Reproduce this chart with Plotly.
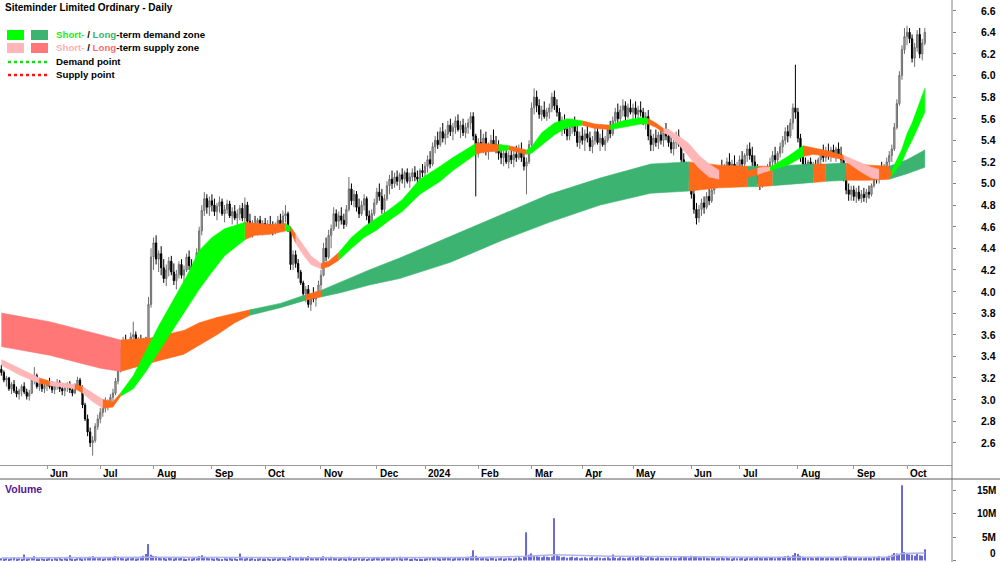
import pandas as pd
import plotly.graph_objects as go

TITLE = "Siteminder Limited Ordinary - Daily"
first_day, last_day = "2023-05-08", "2024-10-10"
asx_holidays = ["2023-06-12", "2023-12-25", "2023-12-26", "2024-01-01", "2024-01-26",
                "2024-03-29", "2024-04-01", "2024-04-25", "2024-06-10"]

# ---------------- daily prices (one line per month) ----------------
open_ = [
 3.28,3.25,3.18,3.20,3.10,3.14,3.08,3.05,3.08,3.12,3.07,3.03,3.06,3.18,3.22,3.12,3.15,3.10,
 3.13,3.15,3.12,3.09,3.13,3.16,3.10,3.08,3.11,3.14,3.09,3.06,3.13,3.18,3.11,2.95,2.82,2.70,2.60,2.62,2.75,
 2.82,2.88,2.92,2.96,2.98,3.02,3.06,3.17,3.27,3.45,3.52,3.42,3.50,3.58,3.60,3.48,3.55,3.45,3.52,3.40,3.88,
 4.32,4.45,4.30,4.35,4.22,4.12,4.20,4.28,4.18,4.10,4.16,4.25,4.15,4.20,4.32,4.24,4.14,4.26,4.36,4.56,4.75,4.86,4.78,
 4.84,4.80,4.74,4.79,4.83,4.72,4.76,4.81,4.70,4.74,4.68,4.72,4.77,4.68,4.80,4.65,4.58,4.62,4.60,4.66,4.58,
 4.63,4.57,4.62,4.60,4.55,4.61,4.66,4.62,4.70,4.72,4.58,4.25,4.34,4.26,4.18,4.08,3.98,4.02,3.88,3.95,3.93,3.98,
 4.06,4.15,4.40,4.32,4.52,4.58,4.72,4.65,4.70,4.66,4.62,4.76,4.95,4.84,4.90,4.78,4.72,4.80,4.86,4.70,4.60,4.72,
 4.82,4.92,4.88,4.76,4.86,4.98,5.04,5.00,5.06,5.02,5.08,5.04,5.10,5.02,5.06,5.10,5.06,5.04,5.12,
 5.10,5.16,5.22,5.18,5.34,5.40,5.36,5.48,5.42,5.46,5.54,5.48,5.52,5.58,5.50,5.54,5.47,5.52,5.56,5.62,5.44,
 5.30,5.38,5.34,5.42,5.30,5.35,5.40,5.36,5.32,5.28,5.24,5.28,5.20,5.26,5.22,5.27,5.24,5.32,5.24,5.16,5.20,
 5.36,5.70,5.80,5.72,5.64,5.68,5.62,5.66,5.70,5.80,5.72,5.66,5.54,5.58,5.50,5.44,5.52,5.55,5.48,5.38,
 5.44,5.40,5.46,5.42,5.34,5.40,5.48,5.38,5.42,5.36,5.40,5.50,5.46,5.58,5.66,5.60,5.68,5.72,5.62,5.70,
 5.66,5.70,5.64,5.68,5.66,5.58,5.62,5.44,5.36,5.42,5.38,5.45,5.40,5.47,5.44,5.38,5.32,5.38,5.44,5.36,5.22,5.14,5.08,
 5.12,4.90,4.76,4.68,4.76,4.82,4.78,4.88,4.84,4.94,5.00,5.08,5.12,5.10,5.14,5.20,5.14,5.18,5.12,
 5.16,5.22,5.18,5.26,5.32,5.26,5.20,5.14,5.04,5.00,5.06,5.04,5.15,5.20,5.26,5.22,5.28,5.34,5.40,5.48,5.44,5.56,5.70,
 5.66,5.42,5.24,5.18,5.14,5.20,5.12,5.16,5.14,5.22,5.28,5.24,5.30,5.26,5.31,5.28,5.32,5.27,5.22,5.06,4.94,4.90,
 4.94,4.88,4.92,4.86,4.90,4.87,4.92,4.90,4.98,5.08,5.04,5.12,5.10,5.16,5.20,5.26,5.32,5.52,5.74,6.00,6.24,
 6.36,6.40,6.34,6.16,6.26,6.38,6.20,6.30]
high = [
 3.32,3.27,3.22,3.21,3.16,3.18,3.12,3.10,3.14,3.16,3.10,3.09,3.20,3.30,3.24,3.18,3.19,3.16,
 3.18,3.20,3.17,3.15,3.19,3.18,3.14,3.13,3.16,3.17,3.12,3.15,3.21,3.20,3.13,2.97,2.86,2.74,2.66,2.78,2.86,
 2.92,2.95,3.02,3.00,3.05,3.10,3.20,3.30,3.48,3.58,3.60,3.55,3.62,3.72,3.63,3.58,3.60,3.57,3.58,3.95,4.40,
 4.50,4.52,4.38,4.42,4.30,4.25,4.32,4.33,4.26,4.20,4.28,4.30,4.24,4.35,4.38,4.30,4.28,4.40,4.60,4.80,4.92,4.90,4.88,
 4.90,4.86,4.82,4.88,4.86,4.80,4.85,4.84,4.78,4.80,4.76,4.80,4.82,4.87,4.83,4.72,4.66,4.70,4.68,4.70,4.66,
 4.68,4.66,4.70,4.65,4.64,4.70,4.72,4.75,4.80,4.74,4.60,4.38,4.38,4.30,4.20,4.10,4.05,4.06,3.98,4.04,4.00,4.10,
 4.20,4.45,4.50,4.57,4.62,4.78,4.76,4.74,4.78,4.72,4.80,5.06,5.00,4.94,4.93,4.86,4.84,4.90,4.88,4.75,4.76,4.86,
 4.96,5.00,4.95,4.90,5.02,5.08,5.12,5.10,5.12,5.10,5.14,5.12,5.14,5.10,5.14,5.16,5.12,5.14,5.18,
 5.20,5.26,5.30,5.38,5.44,5.48,5.52,5.56,5.50,5.58,5.60,5.56,5.62,5.64,5.58,5.60,5.56,5.60,5.66,5.66,5.46,
 5.42,5.50,5.46,5.48,5.38,5.45,5.50,5.44,5.40,5.36,5.32,5.34,5.30,5.32,5.30,5.35,5.36,5.38,5.30,5.24,5.40,
 5.75,5.88,5.86,5.78,5.72,5.76,5.70,5.74,5.84,5.86,5.78,5.70,5.62,5.64,5.58,5.56,5.60,5.62,5.54,5.48,
 5.52,5.50,5.54,5.48,5.44,5.52,5.54,5.46,5.50,5.44,5.54,5.58,5.62,5.70,5.74,5.72,5.78,5.76,5.74,5.78,
 5.74,5.76,5.72,5.76,5.70,5.66,5.68,5.50,5.46,5.50,5.48,5.52,5.50,5.56,5.50,5.46,5.42,5.48,5.50,5.40,5.28,5.20,5.18,
 5.14,4.96,4.82,4.80,4.86,4.88,4.92,4.96,4.98,5.04,5.12,5.16,5.22,5.18,5.24,5.28,5.22,5.26,5.20,
 5.26,5.30,5.28,5.36,5.38,5.34,5.26,5.18,5.10,5.08,5.12,5.18,5.24,5.30,5.34,5.30,5.38,5.44,5.52,5.54,5.60,5.74,6.10,
 5.70,5.46,5.30,5.24,5.22,5.24,5.20,5.22,5.24,5.32,5.36,5.34,5.37,5.34,5.36,5.34,5.38,5.34,5.24,5.10,5.00,4.98,
 4.98,4.96,4.98,4.94,4.96,4.95,4.98,5.00,5.12,5.16,5.14,5.20,5.18,5.24,5.30,5.36,5.56,5.78,6.04,6.28,6.44,
 6.46,6.44,6.38,6.30,6.42,6.44,6.34,6.44]
low = [
 3.22,3.16,3.12,3.08,3.05,3.06,3.02,3.00,3.03,3.05,3.00,2.99,3.05,3.14,3.10,3.08,3.07,3.06,
 3.08,3.10,3.06,3.05,3.09,3.07,3.04,3.03,3.07,3.06,3.03,3.05,3.10,3.09,2.92,2.80,2.66,2.56,2.48,2.60,2.72,
 2.78,2.84,2.88,2.90,2.93,2.98,3.04,3.14,3.25,3.40,3.38,3.36,3.46,3.54,3.44,3.40,3.42,3.36,3.34,3.38,3.85,
 4.20,4.25,4.18,4.15,4.08,4.05,4.14,4.15,4.06,4.02,4.12,4.12,4.08,4.18,4.20,4.10,4.12,4.22,4.34,4.52,4.70,4.72,4.70,
 4.74,4.70,4.66,4.73,4.70,4.64,4.72,4.68,4.62,4.66,4.60,4.66,4.65,4.62,4.62,4.52,4.50,4.55,4.52,4.56,4.52,
 4.55,4.54,4.56,4.52,4.53,4.58,4.58,4.60,4.64,4.55,4.20,4.20,4.22,4.12,4.06,3.96,3.90,3.85,3.82,3.90,3.86,3.96,
 4.00,4.14,4.28,4.30,4.40,4.56,4.60,4.58,4.62,4.58,4.60,4.74,4.80,4.78,4.74,4.68,4.70,4.75,4.66,4.55,4.58,4.70,
 4.80,4.84,4.72,4.70,4.84,4.90,4.95,4.96,4.98,4.94,5.00,4.96,5.00,4.96,5.02,5.02,4.98,5.00,5.06,
 5.06,5.10,5.14,5.16,5.28,5.32,5.34,5.38,5.36,5.42,5.44,5.40,5.46,5.48,5.42,5.44,5.42,5.46,5.50,5.40,4.88,
 5.24,5.30,5.28,5.26,5.22,5.30,5.32,5.28,5.22,5.18,5.16,5.18,5.14,5.18,5.15,5.20,5.22,5.20,5.12,4.90,5.18,
 5.34,5.64,5.66,5.60,5.58,5.60,5.58,5.60,5.66,5.68,5.62,5.50,5.44,5.46,5.40,5.40,5.46,5.44,5.34,5.32,
 5.36,5.30,5.38,5.30,5.28,5.36,5.36,5.30,5.34,5.30,5.38,5.42,5.44,5.52,5.56,5.56,5.62,5.58,5.60,5.64,
 5.58,5.60,5.56,5.62,5.54,5.50,5.40,5.30,5.30,5.34,5.32,5.36,5.34,5.40,5.34,5.28,5.26,5.32,5.34,5.18,5.10,5.04,5.02,
 4.86,4.72,4.62,4.64,4.70,4.72,4.76,4.80,4.82,4.90,4.96,5.02,5.06,5.02,5.08,5.10,5.04,5.10,5.06,
 5.10,5.14,5.12,5.20,5.22,5.16,5.10,5.00,4.94,4.96,5.00,5.02,5.10,5.14,5.18,5.16,5.24,5.28,5.36,5.38,5.42,5.50,5.60,
 5.38,5.20,5.12,5.10,5.08,5.10,5.08,5.10,5.12,5.18,5.20,5.20,5.22,5.20,5.24,5.20,5.24,5.18,5.02,4.90,4.84,4.84,
 4.84,4.82,4.84,4.82,4.83,4.82,4.86,4.88,4.96,5.00,5.00,5.04,5.06,5.10,5.14,5.20,5.30,5.50,5.72,5.96,6.20,
 6.28,6.30,6.12,6.08,6.22,6.16,6.14,6.28]
close = [
 3.25,3.18,3.20,3.10,3.14,3.08,3.05,3.08,3.12,3.07,3.03,3.06,3.18,3.22,3.12,3.15,3.10,3.13,
 3.15,3.12,3.09,3.13,3.16,3.10,3.08,3.11,3.14,3.09,3.06,3.13,3.18,3.11,2.95,2.82,2.70,2.60,2.62,2.75,2.82,
 2.88,2.92,2.96,2.98,3.02,3.06,3.17,3.27,3.45,3.52,3.42,3.50,3.58,3.60,3.48,3.55,3.45,3.52,3.38,3.88,4.32,
 4.45,4.30,4.35,4.22,4.12,4.20,4.28,4.18,4.10,4.16,4.25,4.15,4.20,4.32,4.24,4.14,4.26,4.36,4.56,4.75,4.86,4.78,4.84,
 4.80,4.74,4.79,4.83,4.72,4.76,4.81,4.70,4.74,4.68,4.72,4.77,4.68,4.80,4.65,4.58,4.62,4.60,4.66,4.58,4.63,
 4.57,4.62,4.60,4.55,4.61,4.66,4.62,4.70,4.72,4.58,4.25,4.34,4.26,4.18,4.08,3.98,4.02,3.88,3.95,3.93,3.98,4.06,
 4.15,4.40,4.32,4.52,4.58,4.72,4.65,4.70,4.66,4.62,4.76,4.95,4.84,4.90,4.78,4.72,4.80,4.86,4.70,4.60,4.72,4.82,
 4.92,4.88,4.76,4.86,4.98,5.04,5.00,5.06,5.02,5.08,5.04,5.10,5.02,5.06,5.10,5.06,5.04,5.12,5.10,
 5.16,5.22,5.18,5.34,5.40,5.36,5.48,5.42,5.46,5.54,5.48,5.52,5.58,5.50,5.54,5.47,5.52,5.56,5.62,5.44,5.30,
 5.38,5.34,5.42,5.30,5.35,5.40,5.36,5.32,5.28,5.24,5.28,5.20,5.26,5.22,5.27,5.24,5.32,5.24,5.16,5.20,5.36,
 5.70,5.80,5.72,5.64,5.68,5.62,5.66,5.70,5.80,5.72,5.66,5.54,5.58,5.50,5.44,5.52,5.55,5.48,5.38,5.44,
 5.40,5.46,5.42,5.34,5.40,5.48,5.38,5.42,5.36,5.40,5.50,5.46,5.58,5.66,5.60,5.68,5.72,5.62,5.70,5.66,
 5.70,5.64,5.68,5.66,5.58,5.62,5.44,5.36,5.42,5.38,5.45,5.40,5.47,5.44,5.38,5.32,5.38,5.44,5.36,5.22,5.14,5.08,5.12,
 4.90,4.76,4.68,4.76,4.82,4.78,4.88,4.84,4.94,5.00,5.08,5.12,5.10,5.14,5.20,5.14,5.18,5.12,5.16,
 5.22,5.18,5.26,5.32,5.26,5.20,5.14,5.04,5.00,5.06,5.04,5.15,5.20,5.26,5.22,5.28,5.34,5.40,5.48,5.44,5.56,5.70,5.66,
 5.42,5.24,5.18,5.14,5.20,5.12,5.16,5.14,5.22,5.28,5.24,5.30,5.26,5.31,5.28,5.32,5.27,5.22,5.06,4.94,4.90,4.94,
 4.88,4.92,4.86,4.90,4.87,4.92,4.90,4.98,5.08,5.04,5.12,5.10,5.16,5.20,5.26,5.32,5.52,5.74,6.00,6.24,6.36,
 6.40,6.34,6.16,6.26,6.38,6.20,6.30,6.40]

# daily volume, millions of shares
volume_m = [
 0.5,0.4,0.6,0.3,0.5,0.7,0.4,0.5,0.3,1.3,0.4,0.5,0.6,0.9,0.4,0.4,0.5,0.3,
 0.4,0.6,0.3,0.5,0.4,0.7,0.3,0.5,0.4,1.1,0.4,0.3,0.5,0.6,0.4,0.5,0.7,0.8,0.9,0.6,0.5,
 0.6,0.4,0.5,0.5,0.7,0.6,0.9,0.8,0.6,0.5,0.4,0.7,0.5,0.6,0.4,0.5,0.8,1.0,1.4,3.5,1.2,
 1.0,0.9,0.6,0.5,0.7,0.4,0.6,0.5,0.4,0.6,0.5,0.7,0.4,0.3,0.5,0.4,0.6,0.5,0.9,1.1,0.8,0.6,0.5,
 0.5,0.4,0.6,0.4,0.3,0.5,0.4,0.6,0.4,0.5,0.3,1.5,0.5,0.4,0.6,0.4,0.5,0.3,0.4,0.5,0.4,
 0.4,0.5,0.3,0.4,0.5,0.4,0.6,0.5,0.4,0.5,1.0,0.7,0.6,0.5,0.8,0.6,0.7,0.9,0.6,0.5,0.6,0.5,
 0.7,0.9,0.6,0.5,0.8,0.6,0.5,0.4,0.6,0.5,0.4,0.8,0.5,0.4,0.5,0.6,0.4,0.5,0.3,0.5,0.4,0.6,
 0.6,0.5,0.4,0.6,0.7,0.5,0.4,0.6,0.5,0.8,0.4,0.5,0.6,0.3,0.4,0.5,0.3,0.4,0.3,
 0.4,0.5,0.6,0.7,0.5,0.6,0.4,0.5,0.7,0.6,0.5,0.4,0.6,0.5,0.7,0.5,0.6,0.8,0.9,2.2,1.0,
 0.7,0.5,0.6,0.5,0.4,0.6,0.5,0.4,0.5,0.6,0.4,0.5,0.6,0.5,0.4,0.6,0.7,0.5,0.8,6.0,1.2,
 1.5,1.0,0.9,0.8,0.7,0.9,0.8,0.7,0.8,9.0,1.1,0.9,0.7,0.8,0.6,0.7,0.8,0.6,0.7,0.5,
 0.6,0.7,0.5,0.6,0.8,0.5,0.7,0.6,0.5,0.6,0.7,0.5,1.3,0.6,0.5,0.7,0.6,0.5,0.6,0.7,
 0.7,0.6,0.8,1.0,0.6,0.5,0.9,0.7,0.6,0.5,0.7,0.6,0.5,0.6,0.5,0.7,0.6,0.5,0.6,0.8,0.9,0.7,0.6,
 1.0,0.8,0.9,0.7,0.6,0.8,0.6,0.5,0.7,0.6,0.5,0.6,0.7,0.5,0.6,0.5,0.4,0.6,0.5,
 0.5,0.6,0.4,0.7,0.5,0.6,0.5,0.8,0.7,0.5,0.6,0.5,0.7,0.6,0.5,0.6,0.8,0.7,0.9,1.0,0.8,1.1,1.6,
 1.4,1.0,0.8,0.7,0.6,0.7,0.5,0.6,0.8,0.7,0.6,0.5,0.7,0.6,0.5,0.6,0.7,0.5,0.9,1.0,0.8,0.7,
 0.6,0.7,0.5,0.6,0.5,0.7,0.6,0.5,0.8,0.7,0.9,0.6,0.7,0.8,1.0,1.2,1.6,1.5,1.4,16.0,1.8,
 1.5,1.3,1.2,1.0,1.4,1.1,1.0,2.4]
vol_avg_day = [0, 60, 120, 186, 207, 218, 240, 300, 350, 355, 364]
vol_avg_m = [0.55, 0.7, 0.6, 0.65, 0.9, 1.2, 0.9, 0.7, 0.75, 1.5, 1.6]

# ---------------- zones (band edges read at trading-day knots) ----------------
short_day = [0, 7, 15, 19, 29, 32, 36, 40, 44, 47, 52, 57, 62, 68, 73, 78, 83, 88, 96, 100, 106, 112, 114, 116,
             119, 122, 126, 129, 133, 138, 143, 148, 153, 158, 165, 173, 178, 187, 190, 196, 200, 207, 209, 213,
             218, 223, 229, 234, 240, 245, 252, 255, 258, 261, 263, 267, 271, 275, 279, 283, 288, 295, 298, 300,
             303, 310, 316, 320, 326, 332, 338, 343, 346, 351, 355, 357, 359, 364]
short_top = [3.37, 3.29, 3.20, 3.17, 3.14, 3.12, 3.06, 3.00, 2.98, 3.06, 3.22, 3.45, 3.68, 3.93, 4.14, 4.38, 4.50,
             4.58, 4.64, 4.63, 4.62, 4.63, 4.60, 4.53, 4.43, 4.33, 4.26, 4.28, 4.36, 4.50, 4.60, 4.68, 4.76, 4.85,
             5.04, 5.16, 5.24, 5.37, 5.37, 5.36, 5.35, 5.31, 5.34, 5.47, 5.56, 5.60, 5.58, 5.55, 5.54, 5.58, 5.61,
             5.60, 5.56, 5.51, 5.50, 5.44, 5.37, 5.26, 5.18, 5.12, 5.10, 5.12, 5.14, 5.15, 5.15, 5.25, 5.35, 5.33,
             5.30, 5.26, 5.20, 5.15, 5.13, 5.12, 5.32, 5.46, 5.56, 5.88]
short_bot = [3.32, 3.23, 3.15, 3.13, 3.10, 3.06, 2.98, 2.92, 2.93, 3.03, 3.10, 3.26, 3.45, 3.66, 3.84, 4.02, 4.18,
             4.33, 4.48, 4.52, 4.53, 4.56, 4.56, 4.45, 4.34, 4.25, 4.21, 4.23, 4.29, 4.40, 4.50, 4.57, 4.66, 4.74,
             4.90, 5.02, 5.12, 5.27, 5.29, 5.30, 5.31, 5.27, 5.28, 5.36, 5.45, 5.52, 5.54, 5.51, 5.50, 5.52, 5.55,
             5.55, 5.52, 5.47, 5.45, 5.36, 5.25, 5.14, 5.06, 5.04, 5.04, 5.06, 5.08, 5.10, 5.12, 5.17, 5.25, 5.27,
             5.25, 5.22, 5.12, 5.05, 5.04, 5.07, 5.20, 5.31, 5.40, 5.66]
short_breaks = [0, 15, 19, 29, 32, 40, 47, 96, 112, 114, 116, 126, 133, 187, 196, 200, 207, 229, 240, 255, 261,
                283, 298, 303, 316, 332, 346, 351, 364]
short_states = ["S", "O", "S", "O", "S", "O", "D", "O", "D", "O", "S", "O", "D", "O", "D", "O", "D", "O", "D",
                "O", "S", "O", "S", "D", "O", "S", "O", "D"]

long_day = [0, 19, 39, 47, 59, 72, 78, 85, 92, 98, 110, 120, 126, 134, 145, 157, 177, 197, 216, 236, 256, 271,
            283, 294, 298, 304, 315, 320, 325, 333, 342, 350, 357, 364]
long_top = [3.80, 3.72, 3.60, 3.55, 3.57, 3.64, 3.71, 3.76, 3.80, 3.83, 3.89, 3.97, 4.01, 4.09, 4.20, 4.31, 4.51,
            4.71, 4.90, 5.05, 5.18, 5.20, 5.17, 5.16, 5.16, 5.16, 5.17, 5.18, 5.18, 5.19, 5.17, 5.16, 5.22, 5.31]
long_bot = [3.49, 3.41, 3.29, 3.26, 3.34, 3.42, 3.50, 3.60, 3.71, 3.78, 3.85, 3.92, 3.95, 3.99, 4.06, 4.12, 4.27,
            4.47, 4.64, 4.80, 4.91, 4.93, 4.96, 4.97, 4.97, 4.98, 5.00, 5.01, 5.02, 5.03, 5.03, 5.04, 5.09, 5.15]
long_breaks = [0, 47, 98, 120, 126, 271, 294, 298, 304, 320, 325, 333, 350, 364]
long_states = ["S", "O", "D", "O", "D", "O", "D", "O", "D", "O", "D", "O", "D"]

price_ticks = [2.6, 2.8, 3.0, 3.2, 3.4, 3.6, 3.8, 4.0, 4.2, 4.4, 4.6, 4.8, 5.0, 5.2, 5.4, 5.6, 5.8, 6.0, 6.2, 6.4, 6.6]
vol_ticks = [0, 5, 10, 15]
vol_tick_text = ["0", "5M", "10M", "15M"]

# ---------------- styling ----------------
W, H = 1000, 562
PLOT_R = 952
FONT = "Liberation Sans, Arial, sans-serif"
SHORT_COL = {"D": "#00FF00", "S": "#FFB6B6", "O": "#FF6A1A"}
LONG_COL = {"D": "#3CB371", "S": "#FF7777", "O": "#FF6A1A"}


def fx(px):
    return px / PLOT_R


def fy(py):
    return 1 - py / H


dates = pd.bdate_range(first_day, last_day)
dates = dates[~dates.isin(pd.to_datetime(asx_holidays))]
n = min(len(dates), len(open_), len(high), len(low), len(close), len(volume_m))
dates = dates[:n]
day = list(range(n))

month_idx, month_lab = [], []
prev = (dates[0].year, dates[0].month)
for i, d in enumerate(dates):
    key = (d.year, d.month)
    if key != prev:
        month_idx.append(i)
        month_lab.append(str(d.year) if d.month == 1 else d.strftime("%b"))
        prev = key

x_range = [-0.53, 374.73]

fig = go.Figure()


def add_zone(days, tops, bots, breaks, states, cols):
    for k in range(len(states)):
        a, b = breaks[k], breaks[k + 1]
        sel = [j for j in range(len(days)) if a <= days[j] <= b]
        xs = [days[j] for j in sel]
        yt = [tops[j] for j in sel]
        yb = [bots[j] for j in sel]
        c = cols[states[k]]
        fig.add_trace(go.Scatter(x=xs + xs[::-1], y=yt + yb[::-1], fill="toself", fillcolor=c,
                                 mode="lines", line=dict(color=c, width=0.6), hoverinfo="skip",
                                 showlegend=False, xaxis="x", yaxis="y"))


add_zone(long_day, long_top, long_bot, long_breaks, long_states, LONG_COL)
add_zone(short_day, short_top, short_bot, short_breaks, short_states, SHORT_COL)

fig.add_trace(go.Candlestick(
    x=day, open=open_[:n], high=high[:n], low=low[:n], close=close[:n],
    increasing=dict(line=dict(color="#6e6e6e", width=1), fillcolor="#b4b4b4"),
    decreasing=dict(line=dict(color="#000000", width=1), fillcolor="#000000"),
    whiskerwidth=0, hoverinfo="skip", showlegend=False, xaxis="x", yaxis="y"))

fig.add_trace(go.Bar(x=day, y=volume_m[:n], marker=dict(color="#6a6ad6", line=dict(width=0)),
                     width=0.45, showlegend=False, hoverinfo="skip", xaxis="x2", yaxis="y2"))
fig.add_trace(go.Scatter(x=vol_avg_day, y=vol_avg_m, mode="lines", line=dict(color="#aeb2ea", width=1.5),
                         showlegend=False, hoverinfo="skip", xaxis="x2", yaxis="y2"))

ann = []
shapes = []
# title
ann.append(dict(x=fx(3), y=fy(7), xref="paper", yref="paper", xanchor="left", yanchor="middle",
                text="<b>" + TITLE + "</b>", showarrow=False, font=dict(family=FONT, size=10, color="#000")))
# legend
legend_rows = [
    (35, ("rect", "#00FF00", "#3CB371"),
     "<b><span style='color:#22EE22'>Short-</span> / <span style='color:#3CB371'>Long</span>-term demand zone</b>"),
    (48, ("rect", "#FFB6B6", "#FF7777"),
     "<b><span style='color:#FFB0B0'>Short-</span> / <span style='color:#FF6F6F'>Long</span>-term supply zone</b>"),
    (62, ("dot", "#11DD11", None), "<b>Demand point</b>"),
    (75, ("dot", "#FF1111", None), "<b>Supply point</b>"),
]
for yc, (kind, c1, c2), txt in legend_rows:
    if kind == "rect":
        shapes.append(dict(type="rect", xref="paper", yref="paper", x0=fx(7), x1=fx(24), y0=fy(yc - 5),
                           y1=fy(yc + 5), fillcolor=c1, line=dict(width=0)))
        shapes.append(dict(type="rect", xref="paper", yref="paper", x0=fx(31), x1=fx(48), y0=fy(yc - 5),
                           y1=fy(yc + 5), fillcolor=c2, line=dict(width=0)))
    else:
        shapes.append(dict(type="line", xref="paper", yref="paper", x0=fx(8), x1=fx(47), y0=fy(yc), y1=fy(yc),
                           line=dict(color=c1, width=2.5, dash="dot")))
    ann.append(dict(x=fx(54), y=fy(yc), xref="paper", yref="paper", xanchor="left", yanchor="middle",
                    text=txt, showarrow=False, font=dict(family=FONT, size=9.7, color="#000")))

# month labels
for i, lab in zip(month_idx, month_lab):
    ann.append(dict(x=i, y=fy(473), xref="x", yref="paper", xanchor="left", yanchor="middle", xshift=1,
                    text="<b>" + lab + "</b>", showarrow=False, font=dict(family=FONT, size=10, color="#000")))
# price labels
for v in price_ticks:
    ann.append(dict(x=fx(998), y=v, xref="paper", yref="y", xanchor="right", yanchor="middle",
                    text="<b>%.1f</b>" % v, showarrow=False, font=dict(family=FONT, size=10.5, color="#000")))
# volume labels (the zero label sits just above the bottom edge)
for v, t in zip(vol_ticks, vol_tick_text):
    if v == 0:
        ann.append(dict(x=fx(998), y=fy(561), xref="paper", yref="paper", xanchor="right", yanchor="bottom",
                        text="<b>" + t + "</b>", showarrow=False, font=dict(family=FONT, size=10, color="#000")))
    else:
        ann.append(dict(x=fx(998), y=v, xref="paper", yref="y2", xanchor="right", yanchor="middle",
                        text="<b>" + t + "</b>", showarrow=False, font=dict(family=FONT, size=10, color="#000")))
ann.append(dict(x=fx(3), y=fy(489), xref="paper", yref="paper", xanchor="left", yanchor="middle",
                text="<b>Volume</b>", showarrow=False, font=dict(family=FONT, size=10.5, color="#55178f")))

# frame lines
shapes.append(dict(type="line", xref="paper", yref="paper", x0=1, x1=1, y0=0, y1=1,
                   line=dict(color="#808080", width=1)))
shapes.append(dict(type="line", xref="paper", yref="paper", x0=0, x1=fx(1000), y0=fy(479), y1=fy(479),
                   line=dict(color="#5a5a5a", width=1)))

fig.update_layout(
    width=W, height=H, margin=dict(l=0, r=W - PLOT_R, t=0, b=0),
    paper_bgcolor="white", plot_bgcolor="white", showlegend=False,
    font=dict(family=FONT, size=10, color="#000"),
    xaxis=dict(domain=[0, 1], range=x_range, anchor="y", showgrid=False, zeroline=False, showline=True,
               linecolor="#9a9a9a", linewidth=1, ticks="outside", ticklen=3, tickcolor="#9a9a9a",
               tickvals=month_idx, showticklabels=False, rangeslider=dict(visible=False), fixedrange=True),
    xaxis2=dict(domain=[0, 1], range=x_range, anchor="y2", showgrid=False, zeroline=False, showline=False,
                showticklabels=False, ticks="", fixedrange=True),
    yaxis=dict(domain=[1 - 465 / H, 1], range=[2.3935, 6.699], side="right", anchor="x", showgrid=False,
               zeroline=False, ticks="outside", ticklen=3, tickcolor="#808080", tickvals=price_ticks,
               showticklabels=False, fixedrange=True),
    yaxis2=dict(domain=[0, 83 / H], range=[-0.32, 17.34], side="right", anchor="x2", showgrid=False,
                zeroline=False, ticks="outside", ticklen=3, tickcolor="#808080", tickvals=vol_ticks,
                showticklabels=False, fixedrange=True),
    annotations=ann, shapes=shapes,
)

fig.write_html("out.html")
